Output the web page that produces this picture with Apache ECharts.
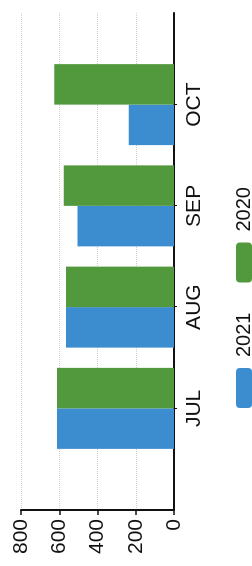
<!DOCTYPE html>
<html>
<head>
<meta charset="utf-8">
<script src="https://cdn.jsdelivr.net/npm/echarts@6/dist/echarts.min.js"></script>
<style>
	html, body { margin: 0; padding: 0; background: #fff; overflow: hidden; }
	/* the photo is a column chart turned on its side, so draw it upright and rotate the box */
	#chart {
		position: absolute;
		left: 0;
		top: 0;
		width: 566px;
		height: 252px;
		transform-origin: 0 0;
		transform: translate(0, 566px) rotate(-90deg);
	}
</style>
</head>
<body>
<div id="chart"></div>
<script>
// categories and values
var months = ['JUL', 'AUG', 'SEP', 'OCT'];
var seriesNames = ['2021', '2020'];
var data2021 = [612, 565, 504, 237];
var data2020 = [612, 565, 577, 626];
// value axis ticks: 0, 200 ... 800
var valueMin = 0;
var valueMax = 800;
var valueStep = 200;

var colors = ['#3b8dd0', '#52993d'];
var fontName = 'Liberation Sans';

var option = {
	animation: false,
	backgroundColor: '#fff',
	color: colors,
	legend: {
		data: seriesNames,
		left: 153,
		top: 229,
		itemWidth: 40,
		itemHeight: 16,
		itemGap: 30,
		textStyle: {
			fontFamily: fontName,
			fontSize: 20,
			color: '#111',
			padding: [0, 0, 0, 6]
		}
	},
	grid: [
		// frame: both axis lines, value ticks and the dotted grid lines
		{ left: 56, right: 13, top: 21, bottom: 78, containLabel: false },
		// bars only, inset inside the frame
		{ left: 107, right: 54, top: 21, bottom: 78, containLabel: false }
	],
	xAxis: [{
		gridIndex: 0,
		type: 'value',
		min: 0,
		max: 1,
		axisLine: { show: true, lineStyle: { color: '#111', width: 2 } },
		axisTick: { show: false },
		axisLabel: { show: false },
		splitLine: { show: false }
	}, {
		gridIndex: 1,
		type: 'category',
		data: months,
		axisLine: { show: false },
		axisTick: {
			show: true,
			alignWithLabel: true,
			length: 3,
			lineStyle: { color: '#111', width: 1 }
		},
		axisLabel: {
			margin: 10,
			fontFamily: fontName,
			fontSize: 21,
			color: '#111'
		}
	}],
	yAxis: [{
		gridIndex: 0,
		type: 'value',
		min: valueMin,
		max: valueMax,
		interval: valueStep,
		axisLine: { show: true, lineStyle: { color: '#111', width: 2 } },
		axisTick: { show: true, length: 5, lineStyle: { color: '#111', width: 1.5 } },
		axisLabel: {
			margin: 9,
			fontFamily: fontName,
			fontSize: 21,
			color: '#111'
		},
		splitLine: {
			show: true,
			lineStyle: { color: '#cfcfcf', type: 'dotted', width: 1 }
		}
	}, {
		gridIndex: 1,
		type: 'value',
		min: valueMin,
		max: valueMax,
		interval: valueStep,
		show: false
	}],
	series: [{
		name: seriesNames[0],
		type: 'bar',
		xAxisIndex: 1,
		yAxisIndex: 1,
		data: data2021,
		barGap: 0,
		barCategoryGap: '20%'
	}, {
		name: seriesNames[1],
		type: 'bar',
		xAxisIndex: 1,
		yAxisIndex: 1,
		data: data2020,
		barGap: 0,
		barCategoryGap: '20%'
	}]
};

var chart = echarts.init(document.getElementById('chart'));
chart.setOption(option);
</script>
</body>
</html>
